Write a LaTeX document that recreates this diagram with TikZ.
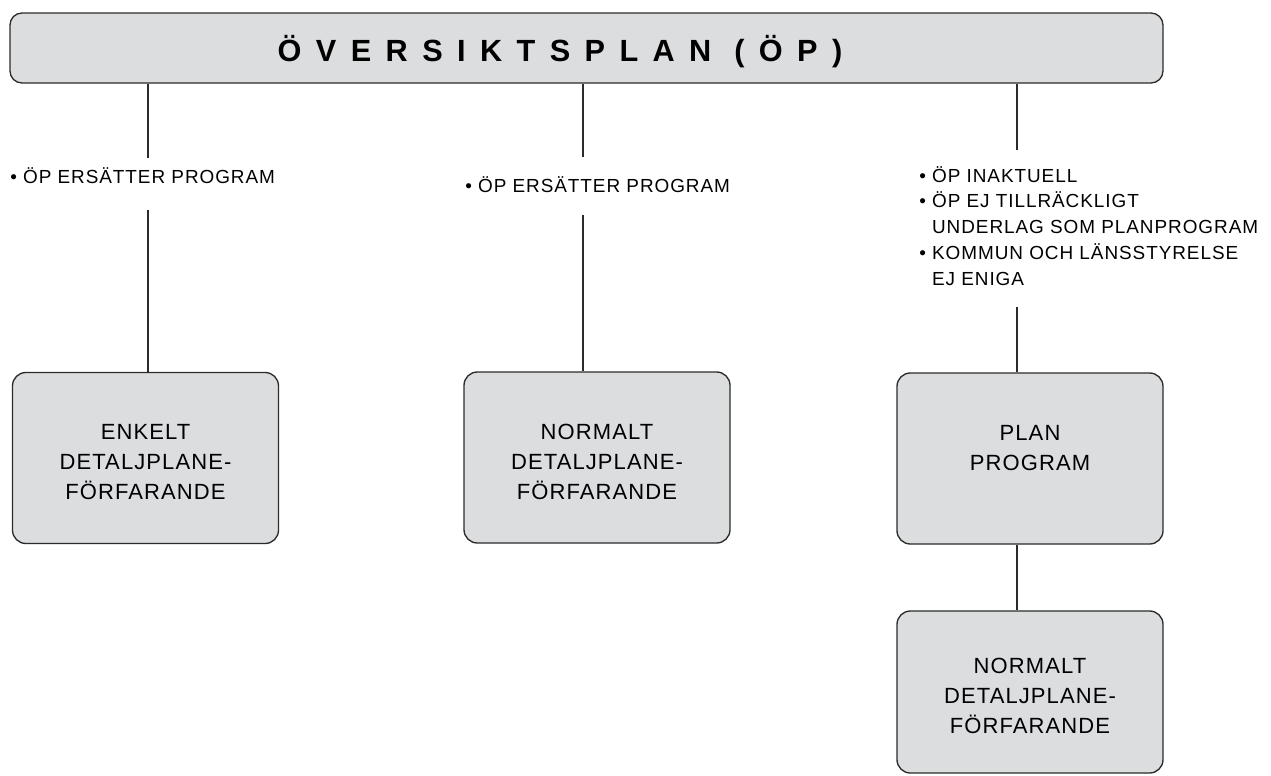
\documentclass[tikz,border=0pt]{standalone}
\usepackage{fontspec}
\setmainfont{Liberation Sans}
\usepackage{xcolor}
\newfontfamily\titlefont[LetterSpace=47]{Liberation Sans}
\newfontfamily\notefont[LetterSpace=5]{Liberation Sans}
\newfontfamily\boxfont[LetterSpace=5]{Liberation Sans}
\definecolor{boxgray}{HTML}{DCDDDF}
\definecolor{edgegray}{HTML}{2B2B2B}
\tikzset{
  planbox/.style={draw=edgegray, fill=boxgray, line width=1pt, rounded corners=10pt,
    minimum width=199.5pt, minimum height=128.25pt, inner sep=0pt, align=center,
    text height=63pt, font=\boxfont\fontsize{16.5}{22.5}\selectfont},
  note/.style={inner sep=0pt, align=left, font=\notefont\fontsize{14.2}{19.35}\selectfont},
  link/.style={draw=edgegray, line width=0.8pt}
}

\begin{document}
\begin{tikzpicture}[x=0.75pt,y=0.75pt,yscale=-1,xscale=1]
        \useasboundingbox (0,0) rectangle (1271,775);

        %Rounded Rect: top box
        \node [planbox, minimum width=864.75pt, minimum height=52.5pt, rounded corners=9pt, text height=] (op) at (586.5,48) {};
        % Text Node
        \node [inner sep=0pt, font=\titlefont\bfseries\fontsize{23}{27}\selectfont] (optitle) at (560,52) {ÖVERSIKTSPLAN (ÖP)};

        % x positions of the three branches
        \coordinate (xA) at (148,0);
        \coordinate (xB) at (583,0);
        \coordinate (xC) at (1017,0);

        % Text Node
        \node [note, anchor=base west] (noteA) at (10,183) {\textbullet\ ÖP ERSÄTTER PROGRAM};
        % Text Node
        \node [note, anchor=base west] (noteB) at (465,192) {\textbullet\ ÖP ERSÄTTER PROGRAM};
        % Text Node
        \node [note, anchor=north west] (noteC) at (919,166) {\textbullet\ ÖP INAKTUELL\\
          \textbullet\ ÖP EJ TILLRÄCKLIGT\\
          \hphantom{\textbullet\ }UNDERLAG SOM PLANPROGRAM\\
          \textbullet\ KOMMUN OCH LÄNSSTYRELSE\\
          \hphantom{\textbullet\ }EJ ENIGA};

        %Rounded Rect: detail plan boxes
        \node [planbox] (enkelt) at (145.5,458) {ENKELT\\DETALJPLANE-\\FÖRFARANDE};
        \node [planbox] (normalA) at (597,457.5) {NORMALT\\DETALJPLANE-\\FÖRFARANDE};
        \node [planbox] (planprog) at (1030,458.5) {PLAN\\PROGRAM\\\mbox{}};
        \node [planbox, minimum height=121.5pt] (normalB) at (1030,692) {NORMALT\\DETALJPLANE-\\FÖRFARANDE};

        %Straight Lines
        \draw [link, shorten >=6.8pt] (op.south -| xA) -- (noteA.north -| xA);
        \draw [link, shorten <=20pt] (noteA.south -| xA) -- (enkelt.north -| xA);
        \draw [link, shorten >=14.3pt] (op.south -| xB) -- (noteB.north -| xB);
        \draw [link, shorten <=17pt] (noteB.south -| xB) -- (normalA.north -| xB);
        \draw [link, shorten >=12pt] (op.south -| xC) -- (noteC.north -| xC);
        \draw [link, shorten <=16pt] (noteC.south -| xC) -- (planprog.north -| xC);
        \draw [link] (planprog.south -| xC) -- (normalB.north -| xC);

\end{tikzpicture}
\end{document}
